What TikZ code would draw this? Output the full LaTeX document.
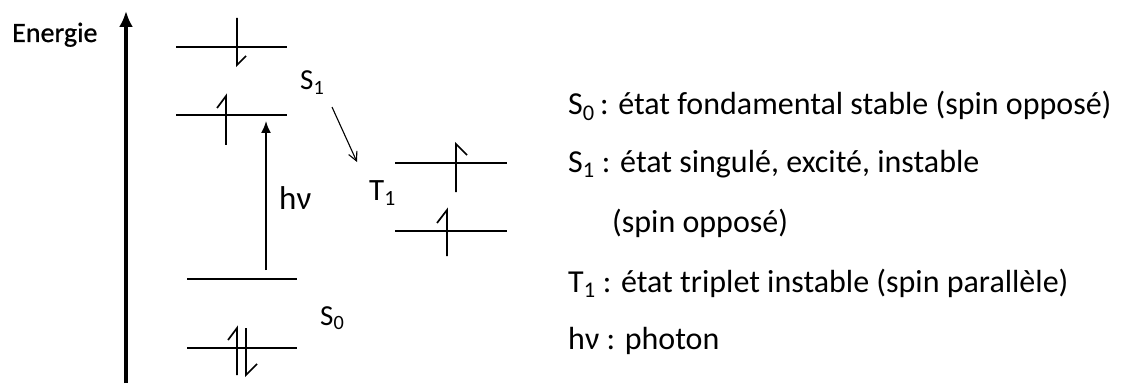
\documentclass[tikz,border=0pt]{standalone}
\usepackage{fontspec}
\setmainfont{Carlito}
\newfontfamily\heavyfont{Carlito}[FakeBold=0.8]
\usetikzlibrary{arrows.meta}
\begin{document}
\begin{tikzpicture}[x=1pt,y=-1pt,
  level/.style={line width=1.4pt},
  thicklevel/.style={line width=2.4pt},
  spin/.style={line width=1.7pt, line join=miter},
  axis/.style={line width=3.2pt, -{Latex[length=16pt,width=14pt]}},
  photon/.style={line width=1.8pt, -{Latex[length=12pt,width=10pt]}},
  decay/.style={line width=1.1pt, -{Straight Barb[length=9pt,width=9pt]}},
  lbl/.style={font=\fontsize{29}{33}\selectfont, inner sep=0pt, anchor=base west},
  legend/.style={font=\fontsize{32}{36}\selectfont, inner sep=0pt, anchor=base west}]
\useasboundingbox (0,0) rectangle (1124,385);
% energy axis
\coordinate (axB) at (126,383);
\coordinate (axT) at (126,11);
\draw[axis] (axB) -- (axT);
\node[lbl, font=\heavyfont\fontsize{28}{32}\selectfont] (en) at (12,42) {Energie};
% S1 levels
\draw[level] (176,47) coordinate (s1aL) -- (287,47) coordinate (s1aR);
\draw[level] (176,115) coordinate (s1bL) -- (287,115) coordinate (s1bR);
\draw[spin] (237,18) -- (237,65) -- (246,56);
\draw[spin] (217,108) -- (226,96) -- (226,145);
% S0 levels
\draw[thicklevel] (187,279) coordinate (s0aL) -- (297,279) coordinate (s0aR);
\draw[level] (187,348) coordinate (s0bL) -- (297,348) coordinate (s0bR);
\draw[spin] (228,340) -- (237,328) -- (237,375);
\draw[spin] (246,328) -- (246,375) -- (257,364);
% T1 levels
\draw[level] (395,163) coordinate (t1aL) -- (507,163) coordinate (t1aR);
\draw[level] (395,231) coordinate (t1bL) -- (507,231) coordinate (t1bR);
\draw[spin] (456,192) -- (456,144) -- (467,155);
\draw[spin] (437,223) -- (447,210) -- (447,256);
% photon
\coordinate (hvA) at (266,270);
\coordinate (hvB) at (266,121);
\draw[photon] (hvA) -- (hvB);
\node[lbl, font=\fontsize{33}{36}\selectfont] (hv) at (279,209) {hν};
% labels
\node[lbl] (S1) at (300,90) {S\textsubscript{1}};
\node[lbl, font=\fontsize{31}{34}\selectfont] (T1) at (369,200) {T\textsubscript{1}};
\node[lbl] (S0) at (320,325) {S\textsubscript{0}};
% intersystem crossing
\coordinate (dA) at (332,107);
\coordinate (dB) at (357,162);
\draw[decay] (dA) -- (dB);
% legend
\node[legend] (l1) at (568,115) {S\textsubscript{0}\,: état fondamental stable (spin opposé)};
\node[legend] (l2) at (568,172) {S\textsubscript{1} : état singulé, excité, instable};
\node[legend] (l3) at (612,232) {(spin opposé)};
\node[legend] (l4) at (568,292) {T\textsubscript{1} : état triplet instable (spin parallèle)};
\node[legend] (l5) at (568,349) {hν : photon};
\end{tikzpicture}
\end{document}
